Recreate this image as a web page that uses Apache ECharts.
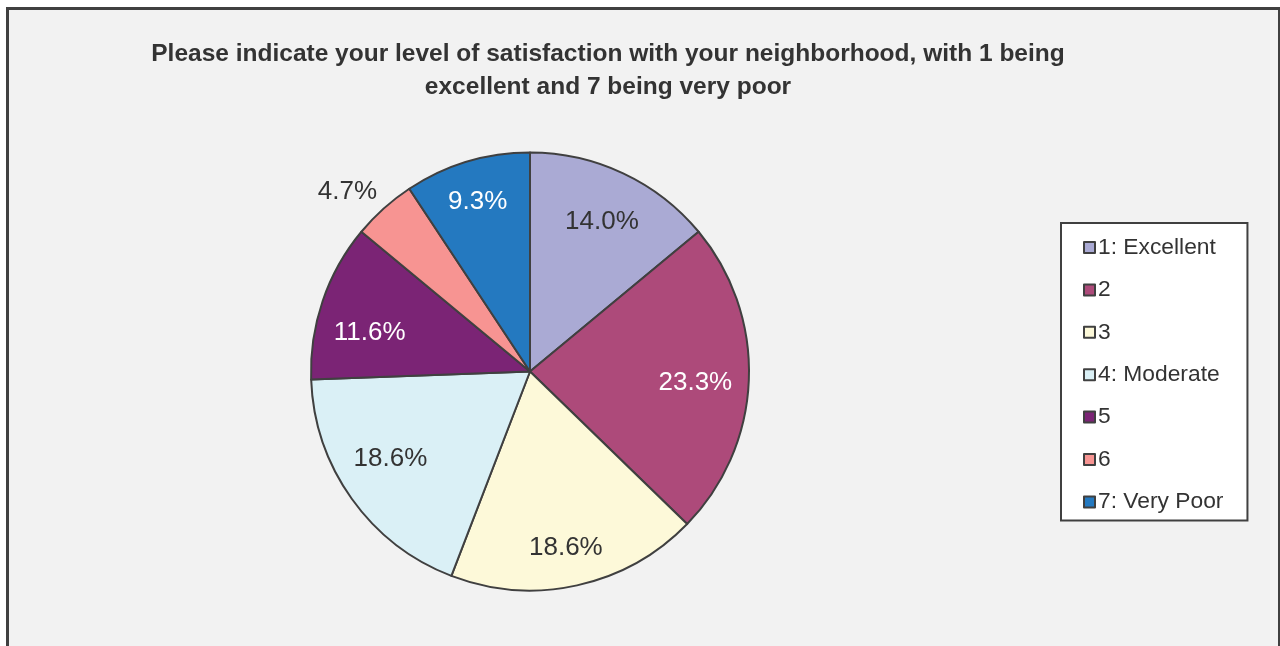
<!DOCTYPE html>
<html>
<head>
<meta charset="utf-8">
<script src="https://cdn.jsdelivr.net/npm/echarts@6/dist/echarts.min.js"></script>
<style>
  html, body { margin: 0; padding: 0; background: #ffffff; }
  #chart { width: 1280px; height: 646px; }
</style>
</head>
<body>
<div id="chart"></div>
<script>
// Survey responses: satisfaction with the neighborhood (percent of respondents)
const categories = ['1: Excellent', '2', '3', '4: Moderate', '5', '6', '7: Very Poor'];
const percents = [14.0, 23.3, 18.6, 18.6, 11.6, 4.7, 9.3];
const sliceColors = ['#aaaad4', '#ad4a7a', '#fdf9d9', '#daf0f6', '#7b2475', '#f79492', '#2479c0'];
const labelColors = ['#333333', '#ffffff', '#333333', '#333333', '#ffffff', '#333333', '#ffffff'];
const titleText = 'Please indicate your level of satisfaction with your neighborhood, with 1 being\nexcellent and 7 being very poor';

// Small best-fit nudges for the percentage labels (pixels)
const labelNudge = [[-1, 6], [-6, 5], [-1, 9], [0, -12], [2, 17], [8, 0], [-3, -5]];

const FONT = '"Liberation Sans", Arial, sans-serif';
const EDGE = '#404040';
const CX = 530, CY = 371.5, R = 219;

const pieData = categories.map((name, i) => ({
  name,
  value: percents[i],
  itemStyle: { color: sliceColors[i] }
}));

// Transparent ring used only to carry the percentage labels further out from the centre
const labelData = categories.map((name, i) => {
  const item = {
    name,
    value: percents[i],
    label: { color: labelColors[i] }
  };
  if (name === '6') {
    item.label.position = 'outside';
    item.label.distanceToLabelLine = 0;
    item.labelLine = { show: false, length: 22, length2: 0 };
  }
  return item;
});

const chart = echarts.init(document.getElementById('chart'), null, { renderer: 'canvas' });

chart.setOption({
  backgroundColor: '#ffffff',
  animation: false,
  graphic: [{
    type: 'rect',
    z: -10,
    shape: { x: 7.5, y: 8.5, width: 1272, height: 700 },
    style: { fill: '#f2f2f2', stroke: EDGE, lineWidth: 3 }
  }],
  title: {
    text: titleText,
    left: 603,
    top: 33,
    textAlign: 'center',
    textStyle: {
      fontFamily: FONT,
      fontSize: 24.5,
      fontWeight: 'bold',
      color: '#333333',
      lineHeight: 33
    }
  },
  legend: {
    orient: 'vertical',
    left: 1061,
    top: 223,
    backgroundColor: '#ffffff',
    borderColor: EDGE,
    borderWidth: 2,
    padding: [13, 24, 7, 22],
    itemWidth: 11,
    itemHeight: 11,
    itemGap: 19.4,
    icon: 'rect',
    selectedMode: false,
    itemStyle: { borderColor: EDGE, borderWidth: 2 },
    textStyle: {
      fontFamily: FONT,
      fontSize: 22.8,
      color: '#333333',
      lineHeight: 22,
      padding: [0, 0, 0, -2]
    },
    data: categories
  },
  series: [
    {
      type: 'pie',
      center: [CX, CY],
      radius: [0, R],
      startAngle: 90,
      clockwise: true,
      silent: true,
      label: { show: false },
      labelLine: { show: false },
      itemStyle: { borderColor: EDGE, borderWidth: 2 },
      data: pieData
    },
    {
      type: 'pie',
      center: [CX, CY],
      radius: [118, R],
      startAngle: 90,
      clockwise: true,
      silent: true,
      avoidLabelOverlap: false,
      legendHoverLink: false,
      itemStyle: { color: 'rgba(0,0,0,0)', borderWidth: 0 },
      label: {
        show: true,
        position: 'inside',
        fontFamily: FONT,
        fontSize: 26,
        formatter: p => p.value.toFixed(1) + '%'
      },
      labelLine: { show: false },
      labelLayout: p => ({ dx: labelNudge[p.dataIndex][0], dy: labelNudge[p.dataIndex][1] }),
      data: labelData
    }
  ]
});
</script>
</body>
</html>
